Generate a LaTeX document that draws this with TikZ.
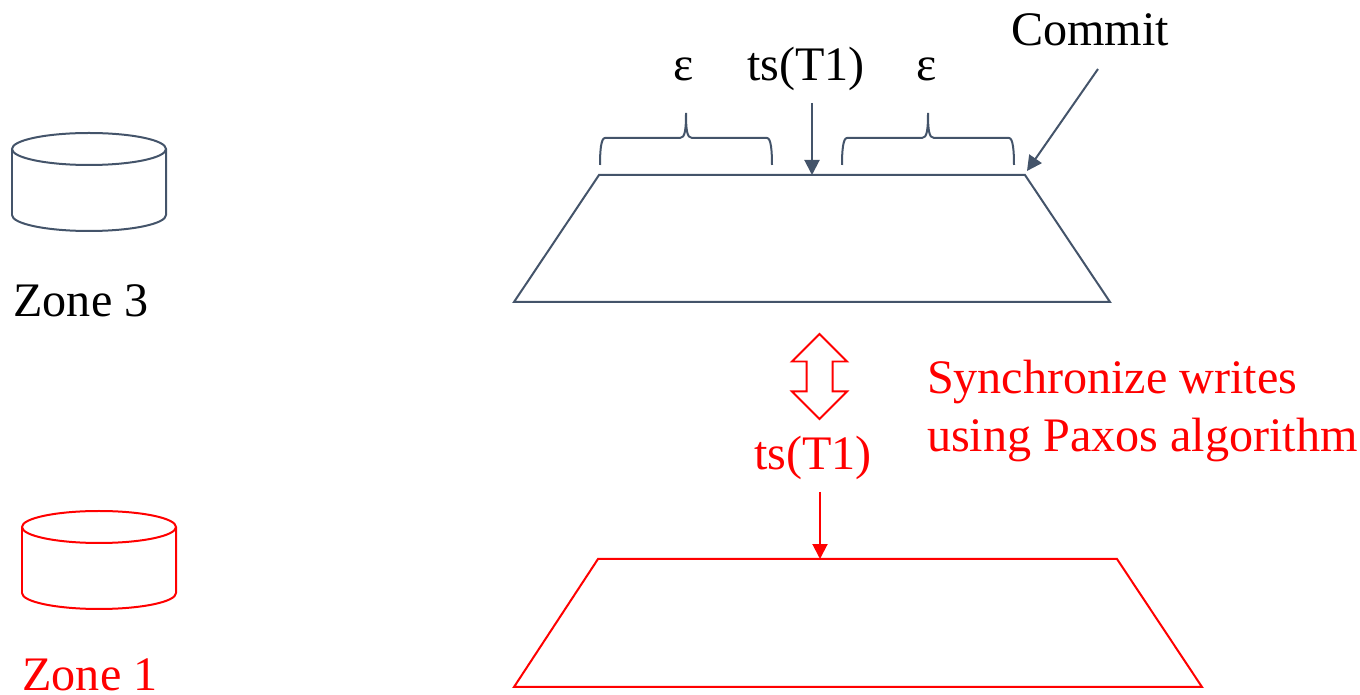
\documentclass[tikz,border=0pt]{standalone}
\usepackage{fontspec}
\setmainfont{Liberation Serif}
\usepackage{xcolor}
\usetikzlibrary{arrows.meta,positioning,calc,shapes.arrows}
\definecolor{slate}{RGB}{68,84,106}
\definecolor{pure}{RGB}{255,0,0}
\begin{document}
\begin{tikzpicture}[x=0.02cm,y=-0.02cm,font=\fontsize{27.4}{32}\selectfont,
  line width=0.04cm,>={Triangle[length=3mm,width=3mm]},
  db/.pic={\draw (0,0) ellipse [x radius=77,y radius=16];
    \draw (-77,0) -- (-77,66) arc [start angle=180,end angle=0,x radius=77,y radius=16] -- (77,0);},
  brc/.pic={\draw (0,0) .. controls (0,-14) and (1,-27) .. (5,-27) -- (80,-27)
    .. controls (85,-27) and (86,-35) .. (86,-52) .. controls (86,-35) and (87,-27) .. (92,-27)
    -- (167,-27) .. controls (171,-27) and (172,-14) .. (172,0);},
  lbl/.style={inner sep=0pt,outer sep=0pt,align=left}]
\useasboundingbox (0,0) rectangle (1360,695);
% ZONE 3
\pic[slate] at (89,149) {db};
\node[lbl] (z3) at (81,301) {Zone 3};
\coordinate (t1) at (599,175);
\coordinate (t2) at (1025,175);
\coordinate (tm) at (812,175);
\draw[slate] (t1)--(t2)--(1110,302)--(514,302)--cycle;
\node[lbl] (e1) at (684,69) {ε};
\node[lbl] (ts1) at (806,69) {ts(T1)};
\node[lbl] (e2) at (927,69) {ε};
\node[lbl] (com) at (1090,30) {Commit};
\coordinate (ts1a) at (812,103);
\coordinate (coma) at (1098,69);
\coordinate (comb) at (1027,171);
\draw[->,slate] (ts1a)--(tm);
\draw[->,slate] (coma)--(comb);
\pic[slate] at (600,165) {brc};
\pic[slate] at (842,165) {brc};
% ZONE 1
\pic[pure] at (99,527) {db};
\node[lbl,text=pure] (z1) at (90,675) {Zone 1};
\coordinate (b1) at (598,559);
\coordinate (b2) at (1117,559);
\coordinate (bm) at (820,559);
\draw[pure] (b1)--(b2)--(1202,687)--(514,687)--cycle;
\node[lbl,text=pure] (ts2) at (813,458) {ts(T1)};
\node[lbl,text=pure,anchor=west] (syn) at (927,411) {Synchronize writes\\[1pt]using Paxos algorithm};
\node[double arrow,draw=pure,double arrow head extend=0.29cm,inner sep=0.24cm,minimum height=1.7cm,outer sep=0pt,rotate=90] (sync) at (819.5,376.5) {};
\coordinate (ts2a) at (820,492);
\draw[->,pure] (ts2a)--(bm);
\end{tikzpicture}
\end{document}
